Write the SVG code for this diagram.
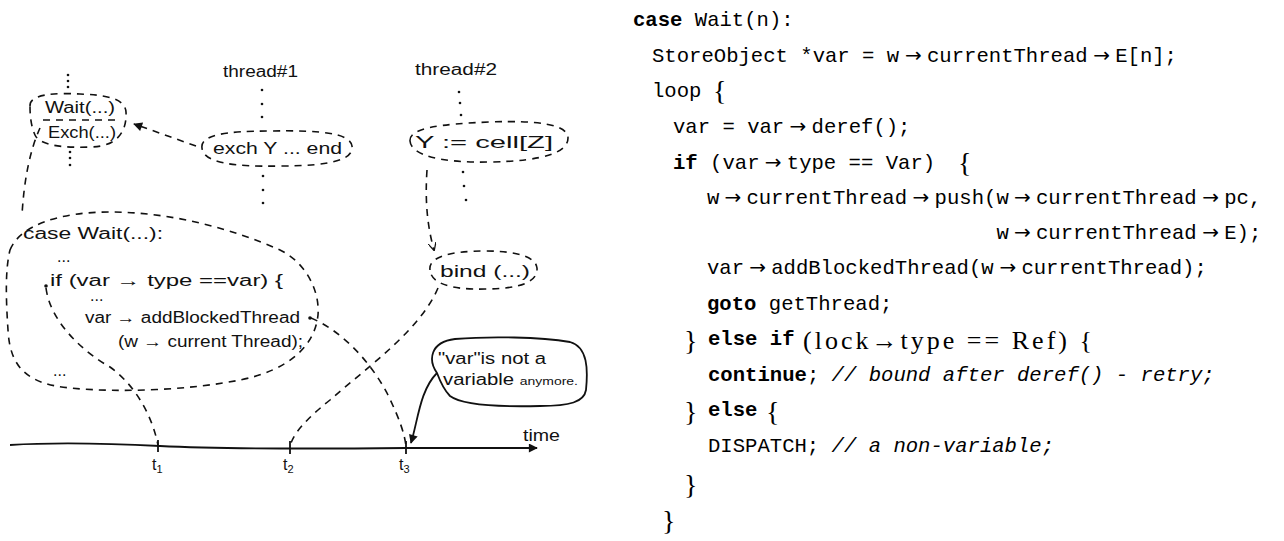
<svg xmlns="http://www.w3.org/2000/svg" width="1284" height="541" viewBox="0 0 1284 541">
<style>
.tt{font-family:"Liberation Mono",monospace;font-size:20.6px;fill:#000}
.kw{font-weight:bold}
.it{font-style:italic}
.ar{font-family:"DejaVu Sans",sans-serif;font-size:20px}
.br{font-family:"Liberation Serif",serif;font-size:28px;fill:#000}
.rm{font-family:"Liberation Serif",serif;font-size:26px;fill:#000}
.hd{font-family:"Liberation Sans",sans-serif;font-size:16px;fill:#111}
.dash{fill:none;stroke:#111;stroke-width:1.6;stroke-dasharray:7 6}
.solid{fill:none;stroke:#111;stroke-width:1.8}
.dot{fill:#111}
</style>
<defs>
<marker id="ah" viewBox="0 0 10 10" refX="9" refY="5" markerWidth="11" markerHeight="9" markerUnits="userSpaceOnUse" orient="auto">
<path d="M0,0 L10,5 L0,10 z" fill="#111"/>
</marker>
<marker id="av" viewBox="0 0 10 10" refX="9" refY="5" markerWidth="8" markerHeight="8" markerUnits="userSpaceOnUse" orient="auto">
<path d="M0,0 L10,5 L0,10" fill="none" stroke="#111" stroke-width="1.6"/>
</marker>
</defs>
<rect width="1284" height="541" fill="#fff"/>

<!-- code listing -->
<g id="code">
<text class="tt" x="633" y="26"><tspan class="kw">case</tspan> Wait(n):</text>
<text class="tt" y="62"><tspan x="652">StoreObject *var = w</tspan><tspan class="ar" x="905">→</tspan><tspan x="927">currentThread</tspan><tspan class="ar" x="1093.2">→</tspan><tspan x="1115.2">E[n];</tspan></text>
<text class="tt" x="652" y="97">loop</text><text class="br" x="713" y="100">{</text>
<text class="tt" y="133"><tspan x="673">var = var</tspan><tspan class="ar" x="789.6">→</tspan><tspan x="811.6">deref();</tspan></text>
<text class="tt" y="169"><tspan x="673" class="kw">if</tspan> (var<tspan class="ar" x="764.8">→</tspan><tspan x="786.8">type == Var)</tspan></text><text class="br" x="958" y="172">{</text>
<text class="tt" y="204"><tspan x="707">w</tspan><tspan class="ar" x="724.4">→</tspan><tspan x="746.4">currentThread</tspan><tspan class="ar" x="912.6">→</tspan><tspan x="934.6">push(w</tspan><tspan class="ar" x="1014">→</tspan><tspan x="1036">currentThread</tspan><tspan class="ar" x="1202.2">→</tspan><tspan x="1224.2">pc,</tspan></text>
<text class="tt" y="239"><tspan x="996.6">w</tspan><tspan class="ar" x="1014">→</tspan><tspan x="1036">currentThread</tspan><tspan class="ar" x="1202.2">→</tspan><tspan x="1224.2">E);</tspan></text>
<text class="tt" y="274"><tspan x="707">var</tspan><tspan class="ar" x="749.2">→</tspan><tspan x="771.2">addBlockedThread(w</tspan><tspan class="ar" x="999.4">→</tspan><tspan x="1021.4">currentThread);</tspan></text>
<text class="tt" x="707" y="310"><tspan class="kw">goto</tspan> getThread;</text>
<text class="br" x="684" y="350">}</text><text class="tt kw" x="708" y="345">else if</text><text class="rm" x="803" y="349" textLength="289" lengthAdjust="spacing">(lock→type == Ref) {</text>
<text class="tt" x="708" y="381"><tspan class="kw">continue</tspan>;<tspan class="it"> // bound after deref() - retry;</tspan></text>
<text class="br" x="684" y="421">}</text><text class="tt kw" x="708" y="416">else</text><text class="br" x="766" y="421">{</text>
<text class="tt" x="708" y="452">DISPATCH; <tspan class="it">// a non-variable;</tspan></text>
<text class="br" x="684" y="494">}</text>
<text class="br" x="662" y="530">}</text>
</g>

<!-- hand-drawn diagram nodes -->
<g id="wait-node">
<path class="dash" d="M30,106 C29,93 60,93 80,94 C105,95 125,98 126,112 C127,128 120,147 90,147 C65,148 40,146 35,135 C31,126 30,116 30,106 Z"/>
<path class="dash" d="M43,120 L115,120"/>
<text class="hd" x="45" y="113" textLength="70" lengthAdjust="spacingAndGlyphs">Wait(...)</text>
<text class="hd" x="48" y="138" textLength="68" lengthAdjust="spacingAndGlyphs">Exch(...)</text>
<circle class="dot" cx="68" cy="75" r="1.3"/><circle class="dot" cx="68" cy="81" r="1.3"/><circle class="dot" cx="68" cy="87" r="1.3"/>
<circle class="dot" cx="70" cy="152" r="1.3"/><circle class="dot" cx="70" cy="158" r="1.3"/><circle class="dot" cx="70" cy="165" r="1.3"/>
</g>

<g id="thread1">
<text class="hd" x="223" y="77" textLength="75" lengthAdjust="spacingAndGlyphs">thread#1</text>
<circle class="dot" cx="262" cy="90" r="1.3"/><circle class="dot" cx="262" cy="104" r="1.3"/><circle class="dot" cx="262" cy="117" r="1.3"/>
</g>

<g id="exch-node">
<path class="dash" d="M202,148 C200,135 225,131 270,131 C320,130 350,133 352,146 C354,160 330,166 280,166 C230,167 203,162 202,148 Z"/>
<text class="hd" x="213" y="154" font-size="18" textLength="129" lengthAdjust="spacingAndGlyphs">exch Y ... end</text>
<circle class="dot" cx="263" cy="176" r="1.3"/><circle class="dot" cx="263" cy="190" r="1.3"/><circle class="dot" cx="263" cy="203" r="1.3"/>
</g>

<g id="thread2">
<text class="hd" x="415" y="75" textLength="82" lengthAdjust="spacingAndGlyphs">thread#2</text>
<circle class="dot" cx="459" cy="92" r="1.3"/><circle class="dot" cx="460" cy="103" r="1.3"/><circle class="dot" cx="461" cy="115" r="1.3"/>
</g>

<g id="cell-node">
<path class="dash" d="M410,141 C409,128 440,124 490,122 C540,120 568,125 568,138 C568,152 545,161 490,162 C440,163 411,155 410,141 Z"/>
<text class="hd" x="415" y="148" font-size="18" textLength="138" lengthAdjust="spacingAndGlyphs">Y := cell[Z]</text>
<circle class="dot" cx="463" cy="172" r="1.3"/><circle class="dot" cx="464" cy="186" r="1.3"/><circle class="dot" cx="466" cy="200" r="1.3"/>
</g>

<g id="bind-node">
<path class="dash" d="M430,270 C428,257 450,251 485,251 C520,251 536,258 537,268 C538,282 520,289 485,289 C450,290 431,283 430,270 Z"/>
<text class="hd" x="440" y="277" font-size="17" textLength="90" lengthAdjust="spacingAndGlyphs">bind (...)</text>
</g>

<g id="case-node">
<path class="dash" d="M10,250 C20,225 60,212 110,212 C170,212 230,228 280,250 C305,262 320,290 318,315 C315,345 290,370 240,380 C190,390 120,393 70,388 C30,384 10,370 8,330 C6,300 5,270 10,250 Z"/>
<text class="hd" x="23" y="239" font-size="17" textLength="140" lengthAdjust="spacingAndGlyphs">case Wait(...):</text>
<text class="hd" x="57" y="262">...</text>
<text class="hd" x="50" y="286" textLength="233" lengthAdjust="spacingAndGlyphs">if (var → type ==var) {</text>
<text class="hd" x="90" y="301">...</text>
<text class="hd" x="85" y="323" textLength="215" lengthAdjust="spacingAndGlyphs">var → addBlockedThread</text>
<text class="hd" x="118" y="347" textLength="185" lengthAdjust="spacingAndGlyphs">(w → current Thread);</text>
<text class="hd" x="53" y="376">...</text>
<circle class="dot" cx="46" cy="286" r="1.8"/>
<circle class="dot" cx="310" cy="318" r="1.8"/>
</g>

<g id="callout">
<path class="solid" d="M437,373 C428,360 430,342 455,339 C490,336 540,337 570,342 C588,347 588,370 586,390 C584,402 570,406 540,406 C500,407 462,405 450,396 C443,389 440,381 437,373 Z"/>
<text class="hd" x="438" y="364" font-size="14" textLength="108" lengthAdjust="spacingAndGlyphs">"var"is not a</text>
<text class="hd" x="443" y="385" font-size="15" textLength="135" lengthAdjust="spacingAndGlyphs">variable <tspan font-size="11">anymore.</tspan></text>
</g>

<g id="timeline">
<path class="solid" d="M10,445 C60,442 120,444 160,446 C220,449 300,449 406,448 L537,448" marker-end="url(#ah)"/>
<path class="solid" d="M158,440 L158,452 M290,441 L290,454 M406,441 L406,454"/>
<text class="hd" x="152" y="470">t<tspan font-size="11" dy="3">1</tspan></text>
<text class="hd" x="283" y="470">t<tspan font-size="11" dy="3">2</tspan></text>
<text class="hd" x="399" y="470">t<tspan font-size="11" dy="3">3</tspan></text>
<text class="hd" x="523" y="441" textLength="37" lengthAdjust="spacingAndGlyphs">time</text>
</g>

<!-- connectors -->
<g id="connectors">
<path class="dash" d="M196,146 L134,124" marker-end="url(#ah)"/>
<path class="dash" d="M40,128 C30,150 24,180 22,215"/>
<path class="dash" d="M427,170 C425,200 427,225 434,250" marker-end="url(#av)"/>
<path class="dash" d="M438,288 C420,330 370,365 330,400 C305,420 292,435 290,447"/>
<path class="dash" d="M46,288 C50,320 80,350 110,367 C135,385 152,415 158,445"/>
<path class="dash" d="M311,318 C340,330 370,360 388,395 C400,420 405,435 406,447"/>
<path class="solid" d="M437,373 C420,390 418,420 411,443" marker-end="url(#ah)"/>
</g>
</svg>
